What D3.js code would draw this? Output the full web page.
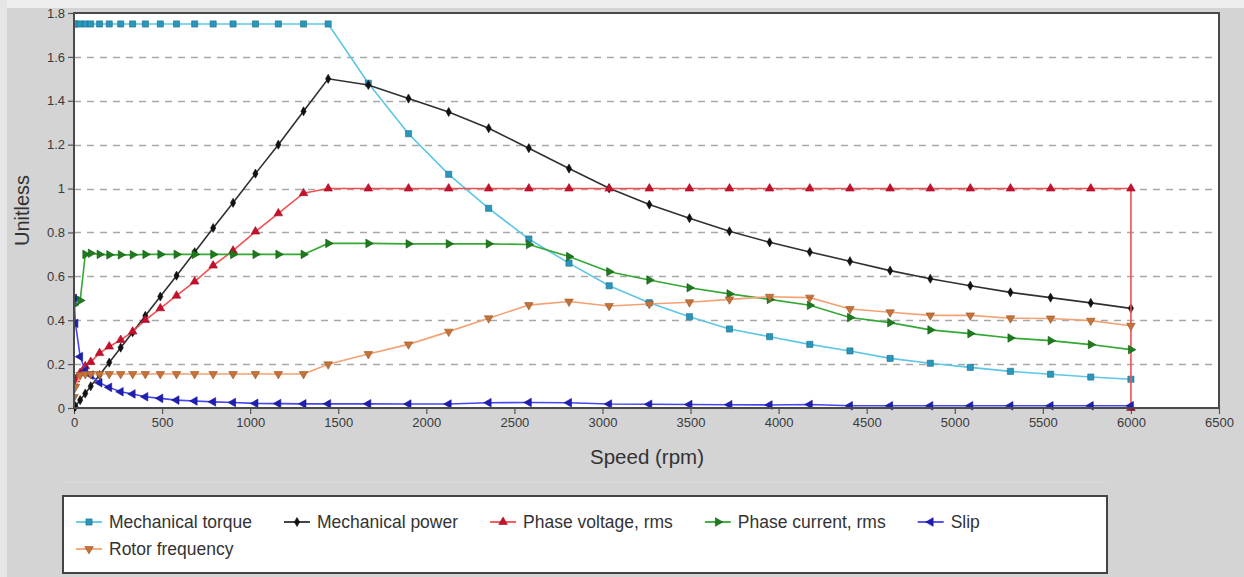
<!DOCTYPE html>
<html>
<head>
<meta charset="utf-8">
<script src="https://cdn.jsdelivr.net/npm/d3@7"></script>
<style>
  body { margin: 0; background: #d4d4d4; }
  svg { display: block; font-family: "Liberation Sans", Arial, sans-serif; }
</style>
</head>
<body>
<div id="chart"></div>
<script>
// speed grid (rpm) shared by all series
const speedRpm = [0, 8, 35, 64, 95, 145, 200, 265, 333, 405, 490, 582, 685, 790, 903, 1030, 1160, 1303, 1443,
  1671, 1899, 2127, 2354, 2582, 2810, 3038, 3266, 3494, 3721, 3949, 4177, 4405, 4633, 4861, 5088, 5316, 5544, 5772, 6000];

const mechTorque = [1.75, 1.75, 1.75, 1.75, 1.75, 1.75, 1.75, 1.75, 1.75, 1.75, 1.75, 1.75, 1.75, 1.75, 1.75, 1.75, 1.75, 1.75, 1.75,
  1.48, 1.25, 1.065, 0.91, 0.77, 0.66, 0.557, 0.48, 0.416, 0.36, 0.325, 0.29, 0.26, 0.226, 0.204, 0.185, 0.167, 0.154, 0.141, 0.131];

const mechPower = [0, 0.008, 0.036, 0.066, 0.099, 0.15, 0.207, 0.275, 0.345, 0.42, 0.508, 0.603, 0.71, 0.82, 0.935, 1.068, 1.2, 1.352, 1.5,
  1.472, 1.41, 1.349, 1.275, 1.184, 1.091, 1.001, 0.927, 0.865, 0.805, 0.755, 0.711, 0.669, 0.626, 0.589, 0.557, 0.527, 0.503, 0.479, 0.454];

// voltage has one extra point: the drop to 0 at 6000 rpm
const voltageSpeed = [...speedRpm, 6000];
const phaseVoltage = [0.11, 0.13, 0.16, 0.19, 0.21, 0.25, 0.28, 0.31, 0.348, 0.401, 0.454, 0.512, 0.576, 0.649, 0.717, 0.804, 0.887, 0.979, 1.0,
  1.0, 1.0, 1.0, 1.0, 1.0, 1.0, 1.0, 1.0, 1.0, 1.0, 1.0, 1.0, 1.0, 1.0, 1.0, 1.0, 1.0, 1.0, 1.0, 1.0, 0];

const phaseCurrent = [0.47, 0.5, 0.49, 0.7, 0.705, 0.7, 0.698, 0.698, 0.698, 0.7, 0.7, 0.7, 0.7, 0.7, 0.7, 0.7, 0.7, 0.7, 0.75,
  0.75, 0.748, 0.748, 0.748, 0.745, 0.69, 0.621, 0.583, 0.548, 0.52, 0.495, 0.468, 0.412, 0.389, 0.356, 0.339, 0.319, 0.307, 0.289, 0.266];

const slip = [0.5, 0.386, 0.234, 0.17, 0.15, 0.115, 0.094, 0.074, 0.064, 0.051, 0.044, 0.036, 0.032, 0.028, 0.025, 0.021, 0.02, 0.019, 0.019,
  0.019, 0.018, 0.018, 0.024, 0.025, 0.024, 0.018, 0.017, 0.016, 0.015, 0.014, 0.016, 0.01, 0.01, 0.01, 0.01, 0.01, 0.01, 0.01, 0.01];

const rotorFreq = [0.05, 0.097, 0.15, 0.155, 0.155, 0.155, 0.155, 0.155, 0.155, 0.155, 0.155, 0.155, 0.155, 0.155, 0.155, 0.155, 0.155, 0.155, 0.199,
  0.246, 0.29, 0.348, 0.409, 0.469, 0.485, 0.465, 0.474, 0.482, 0.495, 0.507, 0.503, 0.451, 0.436, 0.422, 0.422, 0.409, 0.408, 0.398, 0.375];

const xTicks = [0, 500, 1000, 1500, 2000, 2500, 3000, 3500, 4000, 4500, 5000, 5500, 6000, 6500];
const yTicks = [0, 0.2, 0.4, 0.6, 0.8, 1, 1.2, 1.4, 1.6, 1.8];

const series = [
  { name: 'Mechanical torque', xs: speedRpm, ys: mechTorque, line: '#5cc6e6', fill: '#2a96bb', stroke: '#1e6f8c', shape: d3.symbolSquare, size: 38, rot: 0 },
  { name: 'Mechanical power', xs: speedRpm, ys: mechPower, line: '#303030', fill: '#111', stroke: '#111', shape: d3.symbolDiamond, size: 24, rot: 0 },
  { name: 'Phase voltage, rms', xs: voltageSpeed, ys: phaseVoltage, line: '#f25050', fill: '#c8102e', stroke: '#9a0c22', shape: d3.symbolTriangle, size: 32, rot: 0 },
  { name: 'Phase current, rms', xs: speedRpm, ys: phaseCurrent, line: '#33a833', fill: '#1d7a1d', stroke: '#145a14', shape: d3.symbolTriangle, size: 32, rot: 90 },
  { name: 'Slip', xs: speedRpm, ys: slip, line: '#4646f0', fill: '#1e1eb4', stroke: '#14148a', shape: d3.symbolTriangle, size: 32, rot: -90 },
  { name: 'Rotor frequency', xs: speedRpm, ys: rotorFreq, line: '#f4a274', fill: '#c47238', stroke: '#9a5528', shape: d3.symbolTriangle, size: 32, rot: 180 }
];

const W = 1244, H = 577;
const svg = d3.select('#chart').append('svg').attr('width', W).attr('height', H);

// window-ish background
svg.append('rect').attr('width', W).attr('height', H).attr('fill', '#d4d4d4');
svg.append('rect').attr('width', W).attr('height', 8).attr('fill', '#eeeeee');
svg.append('rect').attr('width', 7).attr('height', H).attr('fill', '#e6e6e6');
svg.append('line').attr('x1', 63).attr('x2', 1107).attr('y1', 482.5).attr('y2', 482.5)
  .attr('stroke', '#dcdcdc').attr('stroke-width', 1);

const x = d3.scaleLinear().domain([0, 6500]).range([74, 1219]);
const y = d3.scaleLinear().domain([0, 1.8]).range([408, 13]);

// plot area
svg.append('rect')
  .attr('x', x(0)).attr('y', y(1.8))
  .attr('width', x(6500) - x(0)).attr('height', y(0) - y(1.8))
  .attr('fill', '#fff');

// dashed grid
svg.append('g').selectAll('line')
  .data(yTicks.filter(d => d > 0 && d < 1.8))
  .enter().append('line')
  .attr('x1', x(0)).attr('x2', x(6500))
  .attr('y1', d => Math.round(y(d)) + 0.5).attr('y2', d => Math.round(y(d)) + 0.5)
  .attr('stroke', '#a8a8a8').attr('stroke-width', 1.3)
  .attr('stroke-dasharray', '7,6');

// axes
const xAxis = svg.append('g')
  .attr('transform', `translate(0,${y(0)})`)
  .call(d3.axisBottom(x).tickValues(xTicks).tickSize(6).tickPadding(4).tickFormat(d3.format('d')));
const yAxis = svg.append('g')
  .attr('transform', `translate(${x(0)},0)`)
  .call(d3.axisLeft(y).tickValues(yTicks).tickSize(6).tickPadding(3).tickFormat(d => +d.toFixed(1)));

[xAxis, yAxis].forEach(g => {
  g.select('.domain').remove();
  g.selectAll('.tick line').attr('stroke', '#555').attr('stroke-width', 1.2);
  g.selectAll('.tick text').attr('fill', '#3a3a3a').style('font-size', '13px')
    .style('font-family', '"Liberation Sans", Arial, sans-serif');
});

// series
svg.append('clipPath').attr('id', 'plotclip').append('rect')
  .attr('x', x(0)).attr('y', y(1.8) - 4)
  .attr('width', x(6500) - x(0)).attr('height', y(0) - y(1.8) + 8);

const plot = svg.append('g').attr('clip-path', 'url(#plotclip)');

series.forEach(s => {
  const pts = s.xs.map((v, i) => [v, s.ys[i]]);
  plot.append('path')
    .datum(pts)
    .attr('fill', 'none')
    .attr('stroke', s.line)
    .attr('stroke-width', 1.6)
    .attr('d', d3.line().x(d => x(d[0])).y(d => y(d[1])));
  plot.append('g').selectAll('path')
    .data(pts)
    .enter().append('path')
    .attr('d', d3.symbol().type(s.shape).size(s.size))
    .attr('transform', d => `translate(${x(d[0])},${y(d[1])}) rotate(${s.rot})`)
    .attr('fill', s.fill)
    .attr('stroke', s.stroke)
    .attr('stroke-width', 0.6);
});

// plot frame
svg.append('rect')
  .attr('x', x(0)).attr('y', y(1.8))
  .attr('width', x(6500) - x(0)).attr('height', y(0) - y(1.8))
  .attr('fill', 'none').attr('stroke', '#4a4a4a').attr('stroke-width', 2);

// axis titles
svg.append('text')
  .attr('x', 647).attr('y', 464)
  .attr('text-anchor', 'middle')
  .style('font-size', '20.5px').attr('fill', '#333')
  .text('Speed (rpm)');
svg.append('text')
  .attr('transform', `translate(29,${(y(0) + y(1.8)) / 2}) rotate(-90)`)
  .attr('text-anchor', 'middle')
  .style('font-size', '20px').attr('fill', '#333')
  .text('Unitless');

// legend
svg.append('rect')
  .attr('x', 63).attr('y', 496).attr('width', 1044).attr('height', 77)
  .attr('fill', '#fff').attr('stroke', '#444').attr('stroke-width', 2);

const legend = svg.append('g');
let lx = 76;
series.forEach((s, i) => {
  const row = i < 5 ? 0 : 1;
  if (i === 5) lx = 76;
  const ly = 522 + row * 27;
  const item = legend.append('g').attr('transform', `translate(${lx},${ly})`);
  item.append('line').attr('x1', 0).attr('x2', 26).attr('y1', 0).attr('y2', 0)
    .attr('stroke', s.line).attr('stroke-width', 1.8);
  item.append('path')
    .attr('d', d3.symbol().type(s.shape).size(s.size))
    .attr('transform', `translate(13,0) rotate(${s.rot})`)
    .attr('fill', s.fill).attr('stroke', s.stroke).attr('stroke-width', 0.6);
  const t = item.append('text')
    .attr('x', 33).attr('y', 6)
    .style('font-size', '17.5px').attr('fill', '#333')
    .text(s.name);
  lx += 33 + t.node().getComputedTextLength() + 32;
});
</script>
</body>
</html>
